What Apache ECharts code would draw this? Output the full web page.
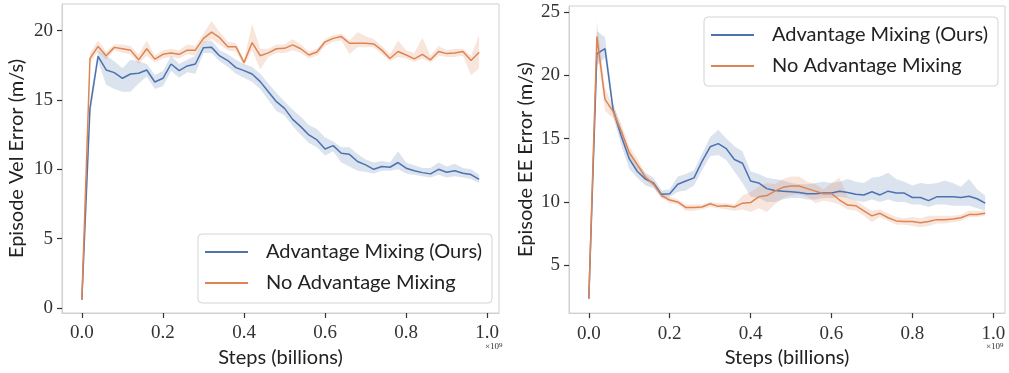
<!DOCTYPE html>
<html>
<head>
<meta charset="utf-8">
<script src="https://cdn.jsdelivr.net/npm/echarts@6/dist/echarts.min.js"></script>
<style>
html,body{margin:0;padding:0;background:#fff;}
#c{width:1009px;height:373px;}
</style>
</head>
<body>
<div id="c"></div>
<script>
// steps (billions), 50 evaluation points
const steps = [];
for (let i = 0; i < 50; i++) steps.push(+(i * 0.02).toFixed(2));

const xTicks = [0, 0.2, 0.4, 0.6, 0.8, 1.0];
const velTicks = [0, 5, 10, 15, 20];
const eeTicks = [5, 10, 15, 20, 25];
const seriesNames = ['Advantage Mixing (Ours)', 'No Advantage Mixing'];

// Left panel: Episode Vel Error
const velMix = [0.58, 14.4, 18.15, 17.17, 16.98, 16.57, 16.88, 16.93, 17.17, 16.3, 16.57, 17.6, 17.12, 17.46, 17.6, 18.78, 18.8, 18.18, 17.85, 17.34, 17.12, 16.88, 16.33, 15.6, 14.88, 14.4, 13.6, 13.08, 12.48, 12.12, 11.47, 11.71, 11.16, 11.08, 10.56, 10.32, 10.0, 10.2, 10.15, 10.49, 10.08, 9.9, 9.76, 9.67, 10.0, 9.79, 9.9, 9.72, 9.62, 9.28];
const velMixLo = [0.58, 13.8, 17.8, 16.1, 15.8, 15.6, 15.6, 16.2, 16.7, 15.8, 16.0, 17.1, 16.6, 17.0, 16.9, 18.4, 18.4, 17.8, 17.4, 16.9, 16.6, 16.3, 15.8, 15.0, 14.2, 13.9, 13.1, 12.5, 11.9, 11.6, 11.0, 11.3, 10.5, 10.2, 9.9, 9.8, 9.7, 9.9, 9.9, 10.0, 9.7, 9.6, 9.5, 9.4, 9.6, 9.4, 9.5, 9.4, 9.3, 9.0];
const velMixHi = [0.58, 15.0, 18.6, 18.2, 17.8, 17.3, 17.9, 17.8, 17.6, 16.8, 17.1, 18.2, 17.6, 17.9, 18.2, 19.2, 19.3, 18.6, 18.3, 17.9, 17.6, 17.4, 16.9, 16.2, 15.5, 14.9, 14.3, 13.8, 13.2, 12.9, 12.3, 12.0, 11.6, 11.6, 11.1, 10.7, 10.5, 10.6, 10.5, 11.3, 10.5, 10.3, 10.1, 10.1, 10.5, 10.2, 10.4, 10.1, 10.0, 9.6];
const velNoMix = [0.58, 18.0, 18.87, 18.2, 18.8, 18.7, 18.6, 17.9, 18.7, 17.95, 18.3, 18.4, 18.3, 18.6, 18.6, 19.45, 19.9, 19.5, 18.85, 18.85, 17.7, 19.15, 18.2, 18.4, 18.7, 18.73, 18.98, 18.7, 18.25, 18.47, 19.2, 19.45, 19.58, 19.1, 19.1, 19.1, 19.05, 18.6, 18.0, 18.5, 18.25, 17.97, 18.3, 17.9, 18.5, 18.35, 18.4, 18.5, 17.85, 18.45];
const velNoMixLo = [0.58, 17.7, 18.5, 17.9, 18.6, 18.4, 18.3, 17.6, 18.2, 17.7, 18.0, 18.1, 18.0, 18.3, 18.2, 19.1, 19.4, 19.0, 18.6, 18.5, 17.5, 18.6, 17.2, 18.1, 18.4, 18.4, 18.6, 18.4, 18.0, 18.2, 18.9, 19.2, 19.3, 18.3, 18.8, 18.8, 18.8, 18.3, 17.8, 18.1, 18.0, 17.75, 18.0, 17.7, 18.2, 18.1, 18.1, 18.2, 16.8, 17.3];
const velNoMixHi = [0.58, 18.4, 19.3, 18.5, 19.0, 19.0, 18.9, 18.3, 19.3, 18.2, 18.6, 18.7, 18.6, 19.0, 18.9, 19.8, 20.7, 19.9, 19.2, 19.1, 17.9, 20.5, 18.7, 18.7, 19.0, 19.0, 19.4, 19.0, 18.5, 18.7, 19.4, 19.7, 19.8, 19.3, 19.9, 19.6, 19.4, 18.9, 18.3, 19.3, 18.6, 18.4, 19.5, 18.2, 18.9, 18.6, 18.7, 18.7, 18.2, 19.7];

// Right panel: Episode EE Error
const eeMix = [2.35, 21.7, 22.1, 17.3, 15.2, 13.4, 12.4, 11.8, 11.5, 10.6, 10.65, 11.4, 11.65, 11.9, 13.2, 14.35, 14.6, 14.2, 13.35, 13.05, 11.65, 11.5, 11.05, 10.9, 10.85, 10.8, 10.75, 10.65, 10.65, 10.7, 10.7, 10.85, 10.75, 10.6, 10.55, 10.8, 10.55, 10.85, 10.7, 10.7, 10.35, 10.35, 10.1, 10.4, 10.4, 10.4, 10.35, 10.45, 10.25, 9.9];
const eeMixLo = [2.35, 20.8, 21.4, 16.8, 14.5, 12.6, 11.9, 11.3, 11.1, 10.3, 10.4, 10.8, 10.9, 11.3, 12.5, 13.6, 13.7, 13.3, 12.4, 11.5, 10.4, 10.3, 10.0, 10.0, 10.2, 10.3, 10.3, 10.2, 10.2, 10.3, 10.3, 10.4, 10.3, 10.1, 10.0, 10.2, 10.0, 10.2, 10.0, 10.0, 9.8, 9.8, 9.6, 9.8, 9.8, 9.7, 9.7, 9.7, 9.5, 9.3];
const eeMixHi = [2.35, 23.5, 23.0, 17.8, 15.9, 14.0, 13.0, 12.3, 11.9, 10.9, 11.0, 12.0, 12.2, 12.5, 13.8, 15.1, 15.7, 15.0, 14.4, 14.0, 12.4, 12.2, 11.9, 11.8, 11.7, 11.5, 11.4, 11.4, 11.5, 11.6, 11.5, 11.6, 11.8, 11.6, 11.5, 11.9, 12.0, 12.3, 11.8, 11.6, 11.3, 11.5, 11.4, 11.5, 11.7, 11.5, 11.2, 11.8, 11.0, 10.5];
const eeNoMix = [2.35, 23.05, 18.1, 17.15, 15.6, 13.9, 12.95, 11.95, 11.4, 10.5, 10.15, 10.0, 9.55, 9.55, 9.6, 9.85, 9.65, 9.7, 9.6, 9.9, 9.95, 10.4, 10.5, 10.85, 11.15, 11.25, 11.25, 11.05, 10.85, 10.65, 10.65, 10.15, 9.75, 9.7, 9.3, 8.9, 9.1, 8.75, 8.5, 8.45, 8.45, 8.35, 8.45, 8.6, 8.6, 8.65, 8.75, 9.0, 9.0, 9.1];
const eeNoMixLo = [2.35, 22.2, 17.2, 16.6, 15.2, 13.4, 12.6, 11.7, 11.2, 10.3, 9.9, 9.8, 9.3, 9.3, 9.4, 9.6, 9.5, 9.4, 9.3, 9.4, 9.2, 9.5, 9.2, 9.8, 10.3, 10.5, 10.6, 10.4, 9.9, 10.1, 10.0, 9.8, 9.4, 9.3, 8.9, 8.4, 8.8, 8.5, 8.2, 8.2, 8.1, 8.0, 8.1, 8.3, 8.3, 8.4, 8.5, 8.8, 8.8, 8.9];
const eeNoMixHi = [2.35, 24.3, 19.0, 17.6, 16.2, 14.4, 13.4, 12.2, 11.6, 10.7, 10.4, 10.2, 9.8, 9.8, 9.8, 10.0, 9.9, 9.9, 9.8, 10.5, 10.8, 11.2, 11.5, 11.4, 11.8, 12.0, 12.0, 11.6, 11.4, 11.0, 11.5, 11.9, 10.4, 10.1, 9.7, 9.3, 9.4, 9.1, 8.8, 8.7, 8.8, 8.7, 8.9, 8.9, 8.9, 8.9, 9.0, 9.3, 9.3, 9.3];

const BLUE = '#4c72b0';
const ORANGE = '#dd8452';
const BLUE_BAND = 'rgba(76,114,176,0.2)';
const ORANGE_BAND = 'rgba(221,132,82,0.2)';

const pairs = (arr) => arr.map((v, i) => [steps[i], v]);

// shaded spread band drawn as one polygon through the axis scales
function band(lo, hi, color, gi) {
  return {
    type: 'custom', xAxisIndex: gi, yAxisIndex: gi, silent: true, z: 1,
    data: lo.map((v, i) => [steps[i], v, hi[i]]),
    encode: { x: 0, y: [1, 2] },
    renderItem: function (params, api) {
      if (params.dataIndex !== 0) return null;
      const pts = [];
      for (let i = 0; i < steps.length; i++) pts.push(api.coord([steps[i], hi[i]]));
      for (let i = steps.length - 1; i >= 0; i--) pts.push(api.coord([steps[i], lo[i]]));
      return { type: 'polygon', shape: { points: pts }, style: { fill: color } };
    }
  };
}
function mainLine(name, vals, color, gi) {
  return { type: 'line', name: name, xAxisIndex: gi, yAxisIndex: gi, data: pairs(vals),
    showSymbol: false, lineStyle: { color: color, width: 1.5 }, itemStyle: { color: color }, z: 5 };
}

const tickFont = { fontFamily: 'Liberation Serif', fontSize: 19, color: '#333' };
const nameFont = { fontFamily: 'Lato', fontSize: 20, color: '#222' };
const TICK = { color: '#333333', width: 1.2 };

function xAxis(gi) {
  return {
    gridIndex: gi, type: 'value', min: -0.049, max: 1.029,
    axisLine: { show: true, onZero: false, lineStyle: { color: '#d0d0d0', width: 1 } },
    axisTick: { show: true, length: 5, lineStyle: TICK, customValues: xTicks },
    axisLabel: Object.assign({ margin: 11, customValues: xTicks, formatter: v => v.toFixed(1) }, tickFont),
    splitLine: { show: false },
    name: 'Steps (billions)', nameLocation: 'middle', nameGap: 31, nameTextStyle: nameFont
  };
}
function yAxis(gi, min, max, ticks, name, gap) {
  return {
    gridIndex: gi, type: 'value', min: min, max: max,
    axisLine: { show: true, onZero: false, lineStyle: { color: '#d0d0d0', width: 1 } },
    axisTick: { show: true, length: 5, lineStyle: TICK, customValues: ticks },
    axisLabel: Object.assign({ margin: 9, customValues: ticks, formatter: v => String(v) }, tickFont),
    splitLine: { show: false },
    name: name, nameLocation: 'middle', nameGap: gap, nameRotate: 90, nameTextStyle: nameFont
  };
}
function legend(left, top) {
  return {
    orient: 'vertical', left: left, top: top, data: seriesNames,
    icon: 'rect', itemWidth: 43, itemHeight: 2, itemGap: 11,
    padding: [8, 10, 10, 7],
    borderColor: '#d4d4d4', borderWidth: 1, borderRadius: 4,
    backgroundColor: 'rgba(255,255,255,0.8)',
    textStyle: { fontFamily: 'Lato', fontSize: 20, color: '#222', padding: [0, 0, 0, 13], lineHeight: 20 }
  };
}

const chart = echarts.init(document.getElementById('c'), null, { renderer: 'canvas' });
chart.setOption({
  animation: false,
  backgroundColor: '#fff',
  grid: [
    { left: 62, top: 4, width: 437, height: 309, show: true, borderColor: '#d0d0d0', borderWidth: 1 },
    { left: 569, top: 6, width: 436, height: 308, show: true, borderColor: '#d0d0d0', borderWidth: 1 }
  ],
  xAxis: [xAxis(0), xAxis(1)],
  yAxis: [
    yAxis(0, -0.37, 21.93, velTicks, 'Episode Vel Error (m/s)', 35),
    yAxis(1, 1.22, 25.47, eeTicks, 'Episode EE Error (m/s)', 33)
  ],
  legend: [legend(198, 234), legend(704, 17)],
  graphic: [
    { type: 'text', left: 485, top: 342, style: { text: '×10{s|9}', font: '9px "Liberation Serif"', fill: '#333',
      rich: { s: { fontSize: 7, verticalAlign: 'top', fontFamily: 'Liberation Serif' } } } },
    { type: 'text', left: 986, top: 342, style: { text: '×10{s|9}', font: '9px "Liberation Serif"', fill: '#333',
      rich: { s: { fontSize: 7, verticalAlign: 'top', fontFamily: 'Liberation Serif' } } } }
  ],
  series: [
    band(velMixLo, velMixHi, BLUE_BAND, 0),
    band(velNoMixLo, velNoMixHi, ORANGE_BAND, 0),
    mainLine(seriesNames[0], velMix, BLUE, 0),
    mainLine(seriesNames[1], velNoMix, ORANGE, 0),
    band(eeMixLo, eeMixHi, BLUE_BAND, 1),
    band(eeNoMixLo, eeNoMixHi, ORANGE_BAND, 1),
    mainLine(seriesNames[0], eeMix, BLUE, 1),
    mainLine(seriesNames[1], eeNoMix, ORANGE, 1)
  ]
});
</script>
</body>
</html>
